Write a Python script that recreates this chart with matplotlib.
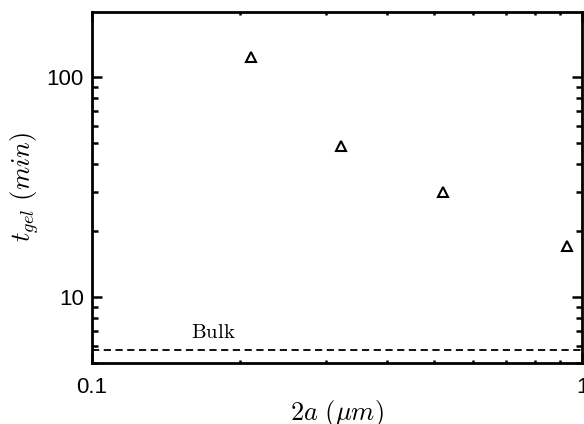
import numpy as np
import matplotlib
matplotlib.use('Agg')
import matplotlib.pyplot as plt
from matplotlib.ticker import LogLocator, NullFormatter, FixedLocator, FixedFormatter

# particle diameter (um) and gelation time (min)
diam = [0.211, 0.322, 0.520, 0.932]
t_gel = [123, 48.6, 30.0, 17.1]
t_bulk = 5.7

plt.rcParams['mathtext.fontset'] = 'cm'

fig = plt.figure(figsize=(5.84, 4.24), dpi=100)
ax = fig.add_axes([92 / 584, 1 - 363 / 424, 490 / 584, 351 / 424])

ax.plot(diam, t_gel, linestyle='none', marker='^', markersize=7.5,
        markerfacecolor='none', markeredgecolor='black', markeredgewidth=1.5)
ax.axhline(t_bulk, color='black', linestyle='--', linewidth=1.3, dashes=(4, 2.5))
ax.text(0.177, 6.95, r'$\mathrm{Bulk}$', fontsize=15,
        ha='center', va='center')

ax.set_xscale('log')
ax.set_yscale('log')
ax.set_xlim(0.1, 1.0)
ax.set_ylim(5.0, 197)

ax.xaxis.set_major_locator(FixedLocator([0.1, 1.0]))
ax.xaxis.set_major_formatter(FixedFormatter(['0.1', '1']))
ax.xaxis.set_minor_locator(LogLocator(subs=np.arange(2, 10)))
ax.xaxis.set_minor_formatter(NullFormatter())
ax.yaxis.set_major_locator(FixedLocator([10, 100]))
ax.yaxis.set_major_formatter(FixedFormatter(['10', '100']))
ax.yaxis.set_minor_locator(LogLocator(subs=np.arange(2, 10)))
ax.yaxis.set_minor_formatter(NullFormatter())

for side in ax.spines.values():
    side.set_linewidth(2)
ax.tick_params(which='both', direction='in', top=True, right=True,
               labelsize=16, width=1.8)
ax.tick_params(which='major', length=7)
ax.tick_params(axis='x', which='major', pad=10)
ax.tick_params(axis='y', which='major', pad=6)
ax.tick_params(axis='y', which='minor', length=4)
ax.tick_params(axis='x', which='minor', length=2.5)
for lab in ax.get_xticklabels() + ax.get_yticklabels():
    lab.set_family('Liberation Sans')

ax.set_xlabel(r'$2a\ (\mu m)$', fontsize=19, labelpad=0)
ax.set_ylabel(r'$t_{gel}\ (min)$', fontsize=19, labelpad=4)

fig.savefig('out.png', dpi=100)
